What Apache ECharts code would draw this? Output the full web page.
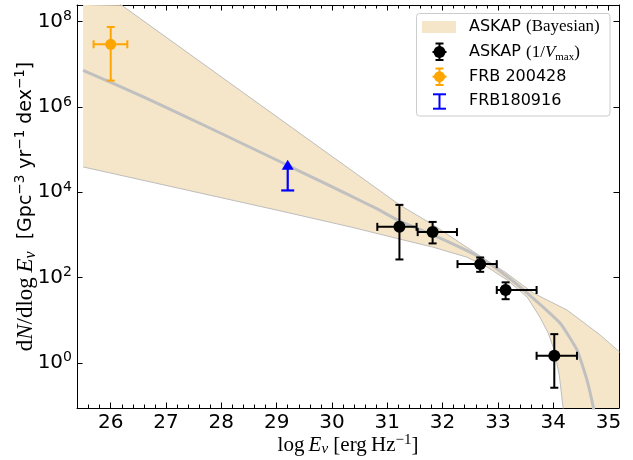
<!DOCTYPE html>
<html>
<head>
<meta charset="utf-8">
<script src="https://cdn.jsdelivr.net/npm/echarts@6.0.0/dist/echarts.min.js"></script>
<style>
html,body{margin:0;padding:0;background:#ffffff;}
#chart{width:633px;height:460px;}
</style>
</head>
<body>
<div id="chart"></div>
<script>
// ---------- data (log E in erg/Hz, rates in Gpc^-3 yr^-1 dex^-1) ----------
const xTicks = [26, 27, 28, 29, 30, 31, 32, 33, 34, 35];
const yTickExponents = [0, 2, 4, 6, 8];

const askapLogE   = [31.22, 31.82, 32.68, 33.14, 34.02];
const askapLogELo = [30.82, 31.55, 32.27, 32.98, 33.70];
const askapLogEHi = [31.53, 32.26, 32.98, 33.70, 34.43];
const askapRate   = [1540, 1160, 206, 51, 1.46];
const askapRateLo = [265, 630, 136, 31, 0.26];
const askapRateHi = [5050, 2010, 295, 77, 4.7];

const frb200428LogE   = [26.0];
const frb200428LogELo = [25.69];
const frb200428LogEHi = [26.30];
const frb200428Rate   = [2.94e7];
const frb200428RateLo = [4.15e6];
const frb200428RateHi = [7.5e7];

const frb180916LogE      = [29.2];
const frb180916Rate      = [1.1e4];   // lower limit
const frb180916ArrowTip  = [5.8e4];

const medianLogE = [25.50, 26.60, 27.80, 29.01, 29.42, 30.33, 30.80, 31.23, 31.84, 32.30, 32.68, 33.16, 33.64, 34.13, 34.43, 34.61, 34.73, 34.80];
const medianRate = [7.24e6, 1.70e6, 3.16e5, 5.62e4, 3.09e4, 8.32e3, 4.17e3, 2.09e3, 977, 525, 295, 107, 32.4, 8.32, 2.00, 0.398, 0.0851, 0.0251];

const bandUpperLogE = [25.50, 26.20, 29.42, 31.23, 31.81, 32.68, 33.13, 33.64, 34.25, 34.61, 34.85, 35.20];
const bandUpperRate = [1.07e9, 2.41e8, 2.40e5, 4.97e3, 1.78e3, 317, 134, 43.1, 17.3, 7.69, 4.49, 1.79];
const bandLowerLogE = [25.50, 29.01, 30.33, 31.23, 31.83, 32.44, 32.81, 33.17, 33.53, 33.76, 33.91, 34.02, 34.11, 34.18, 34.30, 35.20];
const bandLowerRate = [3.92e4, 3.79e3, 1.54e3, 793, 514, 300, 175, 86.7, 34.7, 11.8, 4.97, 1.99, 0.515, 0.087, 0.001, 0.001];

const legendLabels = ['ASKAP (Bayesian)', 'ASKAP (1/Vmax)', 'FRB 200428', 'FRB180916'];

// ---------- helpers ----------
const L = v => Math.log10(v);
const SANS = "'DejaVu Sans', sans-serif";
const SERIF = "'Liberation Serif', 'DejaVu Serif', serif";
const bandColor = '#f6e6c9';
const bandEdge = '#bdbdbd';
const medianColor = '#c0c0c0';
const orange = '#ffa500';
const blue = '#0000ff';

function isTick(v, list) {
  const r = Math.round(v);
  return Math.abs(v - r) < 1e-6 && list.indexOf(r) >= 0;
}

function pairs(xs, ys) { return xs.map((x, i) => [x, L(ys[i])]); }

function errorBarSeries(name, xs, xlo, xhi, ys, ylo, yhi, color, cap) {
  return {
    name: name, type: 'custom', z: 5,
    data: pairs(xs, ys),
    encode: {x: 0, y: 1},
    renderItem: function (params, api) {
      const i = params.dataIndex;
      const l = api.coord([xlo[i], L(ys[i])]);
      const r = api.coord([xhi[i], L(ys[i])]);
      const t = api.coord([xs[i], L(yhi[i])]);
      const b = api.coord([xs[i], L(ylo[i])]);
      const st = {stroke: color, lineWidth: 2, fill: null};
      const h = cap / 2;
      const seg = (x1, y1, x2, y2) => ({type: 'line', shape: {x1, y1, x2, y2}, style: st});
      return {type: 'group', children: [
        seg(l[0], l[1], r[0], r[1]),
        seg(t[0], t[1], b[0], b[1]),
        seg(l[0], l[1] - h, l[0], l[1] + h),
        seg(r[0], r[1] - h, r[0], r[1] + h),
        seg(t[0] - h, t[1], t[0] + h, t[1]),
        seg(b[0] - h, b[1], b[0] + h, b[1])
      ]};
    }
  };
}

const richTitle = {
  m:   {fontFamily: SERIF, fontSize: 23, lineHeight: 26, color: '#000'},
  mi:  {fontFamily: SERIF, fontStyle: 'italic', fontSize: 23, lineHeight: 26, color: '#000'},
  sub: {fontFamily: SERIF, fontStyle: 'italic', fontSize: 16, lineHeight: 16, verticalAlign: 'bottom', color: '#000'},
  s:   {fontFamily: SANS, fontSize: 19, lineHeight: 26, color: '#000'},
  sup: {fontFamily: SANS, fontSize: 13.5, lineHeight: 14, verticalAlign: 'top', color: '#000'}
};
const richX = {
  m:   {fontFamily: SERIF, fontSize: 21, lineHeight: 24, color: '#000'},
  mi:  {fontFamily: SERIF, fontStyle: 'italic', fontSize: 21, lineHeight: 24, color: '#000'},
  sub: {fontFamily: SERIF, fontStyle: 'italic', fontSize: 15, lineHeight: 15, verticalAlign: 'bottom', color: '#000'},
  sup: {fontFamily: SERIF, fontSize: 15, lineHeight: 15, verticalAlign: 'top', color: '#000'}
};
const richTick = {
  b: {fontFamily: SANS, fontSize: 20, lineHeight: 24, color: '#000'},
  s: {fontFamily: SANS, fontSize: 14, lineHeight: 14, verticalAlign: 'top', color: '#000'}
};

const axisBase = {
  type: 'value',
  axisLine: {show: true, onZero: false, lineStyle: {color: '#000', width: 1}},
  axisTick: {show: true, inside: true, length: 5.5, lineStyle: {color: '#000', width: 1}},
  splitLine: {show: false},
  minorSplitLine: {show: false}
};

const xRange = {min: 25.39, max: 35.19, splitNumber: 10};
const yRange = {min: -1.06, max: 8.39, splitNumber: 5};

const option = {
  animation: false,
  backgroundColor: '#ffffff',
  grid: {left: 77, right: 14, top: 5, bottom: 52, containLabel: false, outerBoundsMode: 'none'},
  xAxis: [
    Object.assign({}, axisBase, xRange, {
      position: 'bottom',
      minorTick: {show: true, splitNumber: 5, length: 3.5, lineStyle: {color: '#000', width: 1}},
      axisLabel: {margin: 5, color: '#000', fontFamily: SANS, fontSize: 20,
        formatter: v => isTick(v, xTicks) ? String(Math.round(v)) : ''},
      name: '{m|log\u2009}{mi|E}{sub|ν}{m| [erg\u2009Hz}{sup|−1}{m|]}',
      nameLocation: 'middle', nameGap: 25, nameMoveOverlap: false,
      nameTextStyle: {rich: richX}
    }),
    Object.assign({}, axisBase, xRange, {
      position: 'top',
      minorTick: {show: true, splitNumber: 5, length: 3.5, lineStyle: {color: '#000', width: 1}},
      axisLabel: {show: false}
    })
  ],
  yAxis: [
    Object.assign({}, axisBase, yRange, {
      position: 'left',
      axisLabel: {margin: 5, color: '#000',
        formatter: v => isTick(v, yTickExponents) ? '{b|10}{s|' + Math.round(v) + '}' : '',
        rich: richTick},
      name: '{m|d}{mi|N}{m|/dlog\u2009}{mi|E}{sub|ν}{s|  [Gpc}{sup|−3}{s| yr}{sup|−1}{s| dex}{sup|−1}{s|]}',
      nameLocation: 'middle', nameRotate: 90, nameGap: 38, nameMoveOverlap: false,
      nameTextStyle: {rich: richTitle}
    }),
    Object.assign({}, axisBase, yRange, {
      position: 'right',
      axisLabel: {show: false}
    })
  ],
  series: [
    {
      name: legendLabels[0], type: 'custom', z: 1, clip: true, silent: true,
      data: [[bandUpperLogE[0], L(bandUpperRate[0])]],
      encode: {x: 0, y: 1},
      renderItem: function (params, api) {
        const pts = [];
        for (let i = 0; i < bandUpperLogE.length; i++) pts.push(api.coord([bandUpperLogE[i], L(bandUpperRate[i])]));
        for (let i = bandLowerLogE.length - 1; i >= 0; i--) pts.push(api.coord([bandLowerLogE[i], L(bandLowerRate[i])]));
        const cs = params.coordSys;
        const clipped = echarts.graphic.clipPointsByRect(pts, {x: cs.x, y: cs.y, width: cs.width, height: cs.height});
        return {type: 'polygon', shape: {points: clipped}, style: {fill: bandColor, stroke: null}};
      }
    },
    {
      type: 'line', z: 2, clip: true, silent: true, symbol: 'none',
      data: pairs(bandUpperLogE, bandUpperRate),
      lineStyle: {color: bandEdge, width: 1}
    },
    {
      type: 'line', z: 2, clip: true, silent: true, symbol: 'none',
      data: pairs(bandLowerLogE, bandLowerRate),
      lineStyle: {color: bandEdge, width: 1}
    },
    {
      type: 'line', z: 3, clip: true, silent: true, symbol: 'none', smooth: 0.15,
      data: pairs(medianLogE, medianRate),
      lineStyle: {color: medianColor, width: 3}
    },
    {
      name: legendLabels[3], type: 'custom', z: 4,
      data: pairs(frb180916LogE, frb180916Rate),
      encode: {x: 0, y: 1},
      renderItem: function (params, api) {
        const i = params.dataIndex;
        const b = api.coord([frb180916LogE[i], L(frb180916Rate[i])]);
        const t = api.coord([frb180916LogE[i], L(frb180916ArrowTip[i])]);
        const st = {stroke: blue, lineWidth: 2.2, fill: null};
        return {type: 'group', children: [
          {type: 'line', shape: {x1: b[0], y1: b[1], x2: t[0], y2: t[1] + 6}, style: st},
          {type: 'line', shape: {x1: b[0] - 6.5, y1: b[1], x2: b[0] + 6.5, y2: b[1]}, style: st},
          {type: 'polygon', shape: {points: [[t[0], t[1]], [t[0] - 6, t[1] + 10], [t[0] + 6, t[1] + 10]]}, style: {fill: blue}}
        ]};
      }
    },
    errorBarSeries(legendLabels[2], frb200428LogE, frb200428LogELo, frb200428LogEHi, frb200428Rate, frb200428RateLo, frb200428RateHi, orange, 8),
    {
      type: 'scatter', z: 6, symbol: 'circle', symbolSize: 11,
      data: pairs(frb200428LogE, frb200428Rate),
      itemStyle: {color: orange, opacity: 1}
    },
    errorBarSeries(legendLabels[1], askapLogE, askapLogELo, askapLogEHi, askapRate, askapRateLo, askapRateHi, '#000', 8),
    {
      type: 'scatter', z: 6, symbol: 'circle', symbolSize: 12,
      data: pairs(askapLogE, askapRate),
      itemStyle: {color: '#000', opacity: 1}
    }
  ],
  graphic: [
    {type: 'rect', z: 100, shape: {x: 416.5, y: 13.5, width: 193.5, height: 102.5, r: 3},
     style: {fill: 'rgba(255,255,255,0.8)', stroke: '#cccccc', lineWidth: 1}},
    {type: 'rect', z: 101, shape: {x: 422, y: 21, width: 34, height: 12}, style: {fill: bandColor}},
    {type: 'line', z: 101, shape: {x1: 439.5, y1: 43.5, x2: 439.5, y2: 60}, style: {stroke: '#000', lineWidth: 2}},
    {type: 'line', z: 101, shape: {x1: 435.5, y1: 43.5, x2: 443.5, y2: 43.5}, style: {stroke: '#000', lineWidth: 2}},
    {type: 'line', z: 101, shape: {x1: 435.5, y1: 60, x2: 443.5, y2: 60}, style: {stroke: '#000', lineWidth: 2}},
    {type: 'line', z: 101, shape: {x1: 432.5, y1: 52, x2: 446.5, y2: 52}, style: {stroke: '#000', lineWidth: 2}},
    {type: 'circle', z: 102, shape: {cx: 439.5, cy: 52, r: 6}, style: {fill: '#000'}},
    {type: 'line', z: 101, shape: {x1: 439.5, y1: 68.5, x2: 439.5, y2: 85}, style: {stroke: orange, lineWidth: 2}},
    {type: 'line', z: 101, shape: {x1: 435.5, y1: 68.5, x2: 443.5, y2: 68.5}, style: {stroke: orange, lineWidth: 2}},
    {type: 'line', z: 101, shape: {x1: 435.5, y1: 85, x2: 443.5, y2: 85}, style: {stroke: orange, lineWidth: 2}},
    {type: 'line', z: 101, shape: {x1: 432.5, y1: 76.7, x2: 446.5, y2: 76.7}, style: {stroke: orange, lineWidth: 2}},
    {type: 'circle', z: 102, shape: {cx: 439.5, cy: 76.7, r: 5.5}, style: {fill: orange}},
    {type: 'line', z: 101, shape: {x1: 439.5, y1: 94.3, x2: 439.5, y2: 108.7}, style: {stroke: blue, lineWidth: 2}},
    {type: 'line', z: 101, shape: {x1: 433, y1: 94.3, x2: 446, y2: 94.3}, style: {stroke: blue, lineWidth: 2}},
    {type: 'line', z: 101, shape: {x1: 433, y1: 108.7, x2: 446, y2: 108.7}, style: {stroke: blue, lineWidth: 2}},
    {type: 'text', z: 101, x: 469, y: 27, style: {text: '{s|ASKAP }{m|(Bayesian)}', verticalAlign: 'middle',
      rich: {s: {fontFamily: SANS, fontSize: 16, fill: '#000'}, m: {fontFamily: SERIF, fontSize: 17, fill: '#000'}}}},
    {type: 'text', z: 101, x: 469, y: 52.3, style: {text: '{s|ASKAP }{m|(1/}{mi|V}{sub|max}{m|)}', verticalAlign: 'middle',
      rich: {s: {fontFamily: SANS, fontSize: 16, lineHeight: 20, fill: '#000'}, m: {fontFamily: SERIF, fontSize: 17, lineHeight: 20, fill: '#000'},
             mi: {fontFamily: SERIF, fontStyle: 'italic', fontSize: 17, lineHeight: 20, fill: '#000'},
             sub: {fontFamily: SERIF, fontSize: 11, lineHeight: 11, verticalAlign: 'bottom', fill: '#000'}}}},
    {type: 'text', z: 101, x: 469, y: 76.7, style: {text: legendLabels[2], verticalAlign: 'middle', fontFamily: SANS, fontSize: 16, fill: '#000'}},
    {type: 'text', z: 101, x: 469, y: 100.5, style: {text: legendLabels[3], verticalAlign: 'middle', fontFamily: SANS, fontSize: 16, fill: '#000'}}
  ]
};

const chart = echarts.init(document.getElementById('chart'), null, {renderer: 'canvas'});
chart.setOption(option);
</script>
</body>
</html>
